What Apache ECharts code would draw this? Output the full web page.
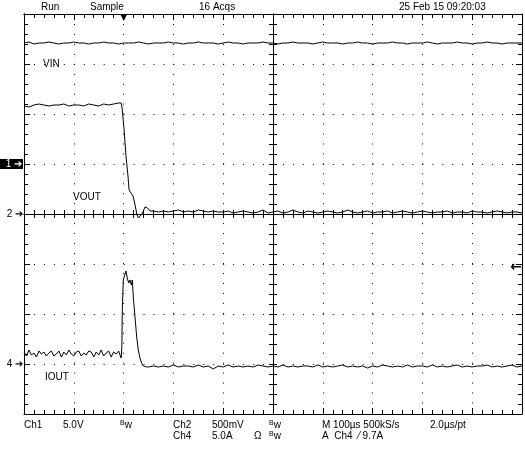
<!DOCTYPE html>
<html>
<head>
<meta charset="utf-8">
<script src="https://cdn.jsdelivr.net/npm/echarts@6/dist/echarts.min.js"></script>
<style>
  html, body { margin: 0; padding: 0; background: #fff; }
  #chart { width: 525px; height: 452px; }
</style>
</head>
<body>
<div id="chart"></div>
<script>
// time axis in µs relative to trigger, 100 µs/div
const timeMin = -200
const timeMax = 800

// Ch1 VIN (V), one value every 10 µs from -200
const vin = [
  12.1, 12.2, 12.0, 12.1, 12.1, 12.2, 12.1, 12.0, 12.1, 12.1,
  12.2, 12.1, 12.1, 12.0, 12.1, 12.1, 12.2, 12.1, 12.1, 12.0,
  12.1, 12.1, 12.1, 12.2, 12.1, 12.0, 12.1, 12.1, 12.1, 12.2,
  12.1, 12.1, 12.0, 12.1, 12.1, 12.2, 12.1, 12.1, 12.1, 12.0,
  12.1, 12.2, 12.1, 12.1, 12.0, 12.1, 12.1, 12.1, 12.2, 12.1,
  12.1, 12.0, 12.1, 12.1, 12.2, 12.1, 12.1, 12.1, 12.0, 12.1,
  12.2, 12.1, 12.1, 12.1, 12.0, 12.1, 12.1, 12.2, 12.1, 12.1,
  12.0, 12.1, 12.1, 12.1, 12.2, 12.1, 12.1, 12.0, 12.1, 12.1,
  12.1, 12.2, 12.1, 12.0, 12.1, 12.1, 12.1, 12.2, 12.1, 12.1,
  12.0, 12.1, 12.1, 12.2, 12.1, 12.1, 12.0, 12.1, 12.1, 12.1, 12.1
]

// Ch2 VOUT (V)
const voutBefore = [ // -200 .. -10, every 10 µs
  1.08, 1.07, 1.09, 1.10, 1.09, 1.08, 1.09, 1.09, 1.10, 1.08,
  1.09, 1.09, 1.08, 1.10, 1.09, 1.08, 1.10, 1.09, 1.10, 1.11
]
const voutEdge = [ // [µs, V]
  [-5, 1.11], [-3, 1.06], [1, 0.84], [5, 0.57], [9, 0.37], [11, 0.24],
  [15, 0.21], [19, 0.18], [23, 0.09], [27, -0.01], [30, -0.04], [34, -0.02],
  [38, 0.01], [43, 0.07], [48, 0.06], [53, 0.03], [60, 0.03], [70, 0.02]
]
const voutAfter = [ // 80 .. 800, every 10 µs
  0.03, 0.02, 0.03, 0.04, 0.02, 0.03, 0.02, 0.04, 0.03, 0.02,
  0.03, 0.02, 0.02, 0.03, 0.01, 0.02, 0.03, 0.02, 0.01, 0.02,
  0.04, 0.01, 0.02, 0.03, 0.01, 0.02, 0.04, 0.02, 0.01, 0.03,
  0.02, 0.01, 0.02, 0.03, 0.02, 0.01, 0.02, 0.04, 0.02, 0.01,
  0.02, 0.03, 0.01, 0.02, 0.02, 0.03, 0.01, 0.02, 0.03, 0.02,
  0.01, 0.02, 0.03, 0.02, 0.01, 0.02, 0.02, 0.03, 0.01, 0.02,
  0.02, 0.01, 0.03, 0.02, 0.02, 0.01, 0.02, 0.03, 0.02, 0.01,
  0.02, 0.02, 0.01
]

// Ch4 IOUT (A)
const ioutBefore = [ // -200 .. -5, every 5 µs
  1.2, 0.8, 1.4, 0.9, 1.1, 0.7, 1.3, 1.0, 1.2, 0.8,
  1.1, 1.3, 0.8, 1.0, 1.3, 0.7, 1.2, 0.9, 1.4, 1.0,
  0.8, 1.2, 1.3, 0.8, 1.1, 0.9, 1.3, 1.2, 0.7, 1.2,
  0.9, 1.4, 0.8, 1.1, 1.3, 0.7, 1.2, 1.0, 1.3, 0.6
]
const ioutEdge = [ // [µs, A]
  [-3.5, 1.7], [-2.6, 5.4], [-0.6, 8.4], [2.2, 8.9], [4.8, 9.3], [7.4, 8.6],
  [10.2, 8.1], [12.9, 8.4], [15.5, 7.9], [17.5, 8.4], [19.5, 6.7], [22.9, 4.7],
  [26.3, 2.7], [29.5, 1.4], [32.9, 0.6], [36.3, 0.07], [39.6, -0.2], [44, -0.27]
]
const ioutAfter = [ // 50 .. 800, every 10 µs
  -0.3, -0.2, -0.3, -0.2, -0.3, -0.1, -0.3, -0.2, -0.2, -0.3,
  -0.1, -0.3, -0.2, -0.5, -0.2, -0.3, -0.1, -0.3, -0.2, -0.3,
  -0.2, -0.3, -0.1, -0.2, -0.3, -0.2, -0.3, -0.1, -0.3, -0.2,
  -0.3, -0.2, -0.2, -0.3, -0.1, -0.3, -0.2, -0.3, -0.2, -0.1,
  -0.3, -0.2, -0.3, -0.2, -0.4, -0.2, -0.3, -0.1, -0.2, -0.3,
  -0.2, -0.3, -0.1, -0.3, -0.2, -0.2, -0.3, -0.1, -0.3, -0.2,
  -0.3, -0.2, -0.1, -0.3, -0.2, -0.3, -0.2, -0.2, -0.1, -0.3,
  -0.2, -0.3, -0.2, -0.1, -0.3, -0.2
]

const triggerLevel = 9.7 // A, Ch4

const headerTexts = [
  ['Run', 41], ['Sample', 90], ['16 Acqs', 199], ['25 Feb 15 09:20:03', 399]
]
const footerRow1 = [
  ['Ch1', 24], ['5.0V', 63], ['{s|B}w', 120], ['Ch2', 173], ['500mV', 212],
  ['{s|B}w', 269], ['M 100µs 500kS/s', 322], ['2.0µs/pt', 430]
]
const footerRow2 = [
  ['Ch4', 173], ['5.0A', 212], ['Ω', 254], ['{s|B}w', 269], ['A  Ch4  ⁄ 9.7A', 322]
]
const traceNames = [['VIN', 43, 64], ['VOUT', 73, 197], ['IOUT', 45, 377]]

function toPairs(values, start, step) {
  return values.map((v, i) => [start + i * step, v])
}

const FONT = 'Liberation Sans'
const black = '#000'

const chart = echarts.init(document.getElementById('chart'))

const txt = (text, x, y) => ({
  type: 'text',
  x: x,
  y: y,
  style: {
    text: text,
    fill: black,
    font: '10px ' + FONT,
    verticalAlign: 'middle',
    rich: { s: { fontSize: 7, fontFamily: FONT, padding: [0, 0, 4, 0] } }
  }
})

// graticule axes
const tickAxis = (min, max, interval, pos, inside, major, minor, extra) => Object.assign({
  type: 'value',
  min: min,
  max: max,
  interval: interval,
  position: pos,
  axisLine: { onZero: false, lineStyle: { color: black } },
  axisTick: { show: major > 0, inside: inside, length: major, lineStyle: { color: black } },
  minorTick: { show: minor > 0, splitNumber: 5, length: minor, lineStyle: { color: black } },
  axisLabel: { show: false },
  splitLine: { show: false }
}, extra)
const hAxis = (pos, inside, major, minor, extra) =>
  tickAxis(timeMin, timeMax, 100, pos, inside, major, minor, extra)
const vAxis = (pos, inside, major, minor, extra) =>
  tickAxis(-4, 4, 1, pos, inside, major, minor, extra)
const onZeroOf = idx => ({ axisLine: { onZero: true, onZeroAxisIndex: idx, lineStyle: { color: black } } })

// hidden axes whose zero marks where a graticule axis sits
const helper = (min, max) => ({ type: 'value', min: min, max: max, show: false })

const dotted = () => ({ show: true, lineStyle: { color: black, width: 1, type: [1, 8.96] } })

const marker = (min, max, pos, value, label, extra) => Object.assign({
  type: 'value',
  min: min,
  max: max,
  position: pos,
  axisLine: { show: false, onZero: false },
  axisTick: { show: false },
  splitLine: { show: false },
  axisLabel: {
    show: true,
    customValues: [value],
    formatter: () => label,
    margin: 1,
    color: black,
    fontFamily: FONT,
    fontSize: 10,
    rich: {
      box: { backgroundColor: black, color: '#fff', fontSize: 10, fontFamily: FONT, padding: [0, 1, 0, 9], lineHeight: 10 },
      n: { color: black, fontSize: 10, fontFamily: FONT, lineHeight: 10 }
    }
  }
}, extra)

const line = (data, yIndex) => ({
  type: 'line',
  xAxisIndex: 0,
  yAxisIndex: yIndex,
  data: data,
  showSymbol: false,
  silent: true,
  lineStyle: { color: black, width: 1 }
})

chart.setOption({
  backgroundColor: '#fff',
  animation: false,
  grid: { left: 24, top: 14, width: 498, height: 400, outerBoundsMode: 'none' },
  xAxis: [
    hAxis('bottom', true, 6, 4, { splitLine: dotted() }),  // 0 bottom border
    hAxis('top', true, 0, 0),                              // 1 top border line
    helper(-5, 5),                                         // 2 centre helper
    hAxis('bottom', false, 4, 4, onZeroOf(0)),             // 3 centre, ticks down
    hAxis('bottom', true, 4, 4, onZeroOf(0)),              // 4 centre, ticks up
    {                                                      // 5 trigger position
      type: 'value', min: timeMin, max: timeMax, position: 'top',
      axisLine: { show: false, onZero: false }, axisTick: { show: false }, splitLine: { show: false },
      axisLabel: {
        show: true, inside: true, customValues: [0], formatter: () => '▼',
        margin: -1, fontSize: 9, color: black, fontFamily: 'DejaVu Sans'
      }
    },
    helper(-0.002, 10),                                    // 6 left edge helper
    hAxis('bottom', false, 6, 4, onZeroOf(9))              // 7 top border ticks
  ],
  yAxis: [
    vAxis('left', true, 0, 0, { splitLine: dotted() }),    // 0 left border line
    vAxis('right', true, 6, 4),                            // 1 right border
    vAxis('left', false, 4, 4, onZeroOf(2)),               // 2 centre, ticks left
    vAxis('left', true, 4, 4, onZeroOf(2)),                // 3 centre, ticks right
    marker(-25, 15, 'left', 0, '{box|1 ➔}'),               // 4 Ch1 5 V/div
    marker(-2, 2, 'left', 0, '{n|2 ➔}'),                   // 5 Ch2 500 mV/div
    marker(-5, 35, 'left', 0, '{n|4 ➔}'),                  // 6 Ch4 5 A/div
    marker(-5, 35, 'right', triggerLevel, '←', {           // 7 trigger level
      axisLabel: {
        show: true, inside: true, customValues: [triggerLevel], formatter: () => '←',
        margin: 0, color: black, fontSize: 14, fontWeight: 'bold', fontFamily: 'DejaVu Sans'
      }
    }),
    vAxis('left', true, 6, 4, onZeroOf(6)),                // 8 left border ticks
    helper(-8, 0.002)                                      // 9 top edge helper
  ],
  series: [
    line(toPairs(vin, timeMin, 10), 4),
    line(toPairs(voutBefore, timeMin, 10).concat(voutEdge, toPairs(voutAfter, 80, 10)), 5),
    line(toPairs(ioutBefore, timeMin, 5).concat(ioutEdge, toPairs(ioutAfter, 50, 10)), 6)
  ],
  graphic: [].concat(
    headerTexts.map(d => txt(d[0], d[1], 7)),
    footerRow1.map(d => txt(d[0], d[1], 425)),
    footerRow2.map(d => txt(d[0], d[1], 436)),
    traceNames.map(d => txt(d[0], d[1], d[2]))
  )
})
</script>
</body>
</html>
